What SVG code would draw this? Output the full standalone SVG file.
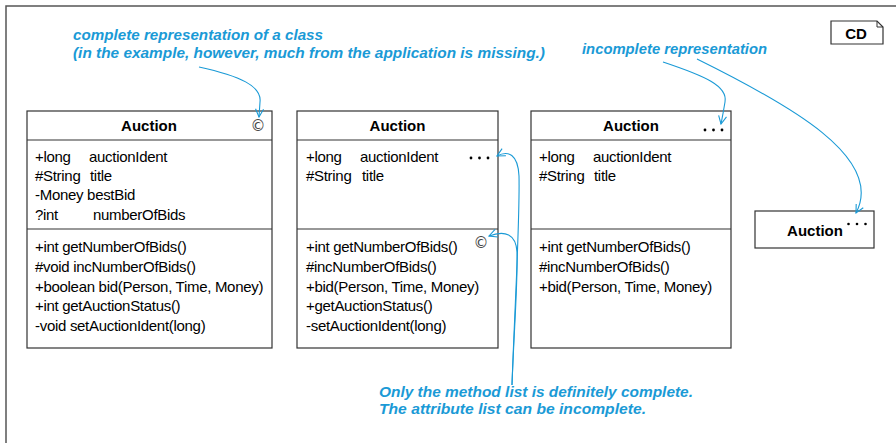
<svg xmlns="http://www.w3.org/2000/svg" width="896" height="443" viewBox="0 0 896 443">
<defs>
<style>
.frame{fill:none;stroke:#555;stroke-width:1.5}
.box{fill:#fff;stroke:#333;stroke-width:1.2}
.sep{stroke:#333;stroke-width:1.2}
.hdr{font-family:"Liberation Sans",Arial,sans-serif;font-size:15px;font-weight:bold;fill:#000;text-anchor:middle}
.t{font-family:"Liberation Sans",Arial,sans-serif;font-size:15px;fill:#000;letter-spacing:-0.3px}
.cp{font-family:"DejaVu Sans",sans-serif;font-size:15px;fill:#444;text-anchor:middle}
.note{font-family:"Liberation Sans",Arial,sans-serif;font-style:italic;font-weight:bold;font-size:15px;fill:#1a9ad6}
.con{fill:none;stroke:#1a9ad6;stroke-width:1.1}
.dot{fill:#000}
</style>
<marker id="arr" viewBox="0 0 10 10" refX="9" refY="5" markerWidth="10" markerHeight="10" markerUnits="userSpaceOnUse" orient="auto">
<path d="M1,1 L9,5 L1,9" fill="none" stroke="#1a9ad6" stroke-width="1.1"/>
</marker>
</defs>
<rect width="896" height="443" fill="#fff"/>
<path class="frame" d="M6,450 L6,6 L900,6"/>

<g id="cd-tag">
<path d="M831,21 L877,21 L883,27 L883,44 L831,44 Z" fill="#fff" stroke="#333" stroke-width="1.2"/>
<path d="M877,21 L877,27 L883,27" fill="none" stroke="#333" stroke-width="1"/>
<text class="hdr" x="856" y="39">CD</text>
</g>

<g id="auction-complete">
<rect class="box" x="27" y="111" width="245" height="237"/>
<line class="sep" x1="27" y1="140" x2="272" y2="140"/>
<line class="sep" x1="27" y1="229" x2="272" y2="229"/>
<text class="hdr" x="149" y="131">Auction</text>
<text class="cp" x="258" y="131">©</text>
<text class="t" x="35" y="162">+long</text><text class="t" x="89" y="162">auctionIdent</text>
<text class="t" x="35" y="181">#String</text><text class="t" x="90" y="181">title</text>
<text class="t" x="35" y="200">-Money bestBid</text>
<text class="t" x="35" y="220">?int</text><text class="t" x="93" y="220">numberOfBids</text>
<text class="t" x="35" y="252">+int getNumberOfBids()</text>
<text class="t" x="35" y="272">#void incNumberOfBids()</text>
<text class="t" x="35" y="292">+boolean bid(Person, Time, Money)</text>
<text class="t" x="35" y="311">+int getAuctionStatus()</text>
<text class="t" x="35" y="331">-void setAuctionIdent(long)</text>
</g>

<g id="auction-methods-complete">
<rect class="box" x="297" y="111" width="201" height="237"/>
<line class="sep" x1="297" y1="140" x2="498" y2="140"/>
<line class="sep" x1="297" y1="229" x2="498" y2="229"/>
<text class="hdr" x="397.5" y="131">Auction</text>
<text class="t" x="306" y="162">+long</text><text class="t" x="360" y="162">auctionIdent</text>
<circle class="dot" cx="471" cy="158" r="1.4"/><circle class="dot" cx="479.5" cy="158" r="1.4"/><circle class="dot" cx="488" cy="158" r="1.4"/>
<text class="t" x="306" y="181">#String</text><text class="t" x="362" y="181">title</text>
<text class="cp" x="481" y="248">©</text>
<text class="t" x="306" y="252">+int getNumberOfBids()</text>
<text class="t" x="306" y="272">#incNumberOfBids()</text>
<text class="t" x="306" y="292">+bid(Person, Time, Money)</text>
<text class="t" x="306" y="311">+getAuctionStatus()</text>
<text class="t" x="306" y="331">-setAuctionIdent(long)</text>
</g>

<g id="auction-incomplete">
<rect class="box" x="531" y="111" width="200" height="237"/>
<line class="sep" x1="531" y1="140" x2="731" y2="140"/>
<line class="sep" x1="531" y1="229" x2="731" y2="229"/>
<text class="hdr" x="631" y="131">Auction</text>
<circle class="dot" cx="705" cy="130" r="1.4"/><circle class="dot" cx="713.5" cy="130" r="1.4"/><circle class="dot" cx="722" cy="130" r="1.4"/>
<text class="t" x="539" y="162">+long</text><text class="t" x="593" y="162">auctionIdent</text>
<text class="t" x="539" y="181">#String</text><text class="t" x="594" y="181">title</text>
<text class="t" x="539" y="252">+int getNumberOfBids()</text>
<text class="t" x="539" y="272">#incNumberOfBids()</text>
<text class="t" x="539" y="292">+bid(Person, Time, Money)</text>
</g>

<g id="auction-name-only">
<rect class="box" x="755" y="211" width="119" height="37"/>
<text class="hdr" x="815" y="236">Auction</text>
<circle class="dot" cx="848.5" cy="224" r="1.3"/><circle class="dot" cx="857" cy="224" r="1.3"/><circle class="dot" cx="865.5" cy="224" r="1.3"/>
</g>

<g id="notes">
<text class="note" x="73" y="40" textLength="250" lengthAdjust="spacingAndGlyphs">complete representation of a class</text>
<text class="note" x="73" y="58" textLength="472" lengthAdjust="spacingAndGlyphs">(in the example, however, much from the application is missing.)</text>
<text class="note" x="582" y="54" textLength="185" lengthAdjust="spacingAndGlyphs">incomplete representation</text>
<text class="note" x="379" y="397" textLength="314" lengthAdjust="spacingAndGlyphs">Only the method list is definitely complete.</text>
<text class="note" x="379" y="414" textLength="267" lengthAdjust="spacingAndGlyphs">The attribute list can be incomplete.</text>
</g>

<g id="connectors">
<path class="con" marker-end="url(#arr)" d="M199,67 C240,76 262,86 260,102 L259,117"/>
<path class="con" marker-end="url(#arr)" d="M663,62 C705,76 728,86 725,102 Q723,114 721,124"/>
<path class="con" marker-end="url(#arr)" d="M697,59 C790,105 885,158 856,213"/>
<path class="con" marker-end="url(#arr)" d="M512,385 C515,300 520,220 519,176 C518,154 508,150 497,156"/>
<path class="con" marker-end="url(#arr)" d="M512,385 C514,330 518,280 517,252 C516,234 505,230 489,236"/>
</g>
</svg>
